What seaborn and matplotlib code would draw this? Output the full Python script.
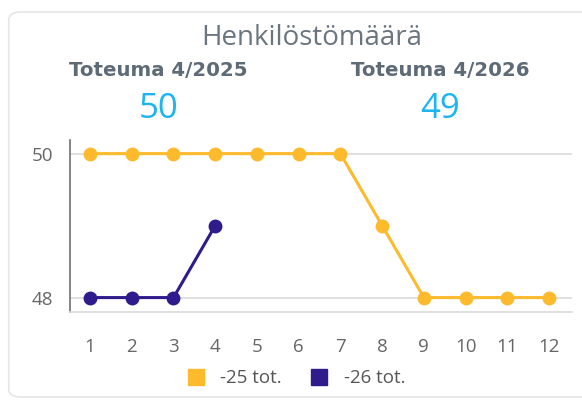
import matplotlib
matplotlib.use("Agg")
import matplotlib.pyplot as plt
import seaborn as sns
import pandas as pd
from matplotlib.lines import Line2D
from matplotlib.patches import FancyBboxPatch

months = list(range(1, 13))
series_25 = [50, 50, 50, 50, 50, 50, 50, 49, 48, 48, 48, 48]
series_26 = [48, 48, 48, 49]
labels = ["-25 tot.", "-26 tot."]
colors = ["#FDBA2C", "#2F1B8C"]
kpi_titles = ["Toteuma 4/2025", "Toteuma 4/2026"]
kpi_values = ["50", "49"]

df = pd.concat([
    pd.DataFrame({"kk": months, "arvo": series_25, "sarja": labels[0]}),
    pd.DataFrame({"kk": months[:len(series_26)], "arvo": series_26, "sarja": labels[1]}),
])

sns.set_theme(style="white")
plt.rcParams["font.family"] = ["Open Sans", "DejaVu Sans"]

fig = plt.figure(figsize=(5.82, 4.01), dpi=100)
fig.patches.append(FancyBboxPatch((0.015, 0.01), 1.2, 0.96, boxstyle="round,pad=0,rounding_size=0.02",
                                  transform=fig.transFigure, facecolor="white",
                                  edgecolor="#E6E6E6", linewidth=1.2, zorder=-1))
ax = fig.add_axes([0.1203, 0.222, 0.8625, 0.429])

sns.lineplot(data=df, x="kk", y="arvo", hue="sarja", palette=colors, marker="o",
             markersize=10, markeredgewidth=0, linewidth=2.2, legend=False, ax=ax)

ax.set_xlim(0.52, 12.55)
ax.set_ylim(47.8, 50.19)
ax.set_xticks(months)
ax.set_yticks([48, 50])
ax.set_xlabel("")
ax.set_ylabel("")
ax.tick_params(axis="both", length=0, labelsize=13.5, labelcolor="#666666")
ax.tick_params(axis="y", pad=12)
ax.tick_params(axis="x", pad=19)
for y in [48, 50]:
    ax.axhline(y, color="#DADADA", linewidth=1.2, zorder=0)
for s in ["top", "right"]:
    ax.spines[s].set_visible(False)
ax.spines["left"].set_color("#707070")
ax.spines["left"].set_linewidth(1.2)
ax.spines["bottom"].set_color("#DADADA")
ax.spines["bottom"].set_linewidth(1.2)

fig.text(0.536, 0.905, "Henkilöstömäärä", ha="center", va="center", fontsize=20, color="#6B7580")
for xc, t, v in zip([0.272, 0.756], kpi_titles, kpi_values):
    fig.text(xc, 0.823, t, ha="center", va="center", fontsize=14.2, fontweight="bold",
             color="#5E6A76", family="DejaVu Sans")
    fig.text(xc, 0.727, v, ha="center", va="center", fontsize=25, color="#1DB4F0")

handles = [Line2D([], [], marker="s", linestyle="", markersize=12, color=c) for c in colors]
fig.legend(handles, labels, loc="center", bbox_to_anchor=(0.5, 0.057), ncol=2, frameon=False,
           fontsize=13.5, labelcolor="#555555", handletextpad=0.3, columnspacing=1.0)

fig.savefig("out.png", dpi=100)
